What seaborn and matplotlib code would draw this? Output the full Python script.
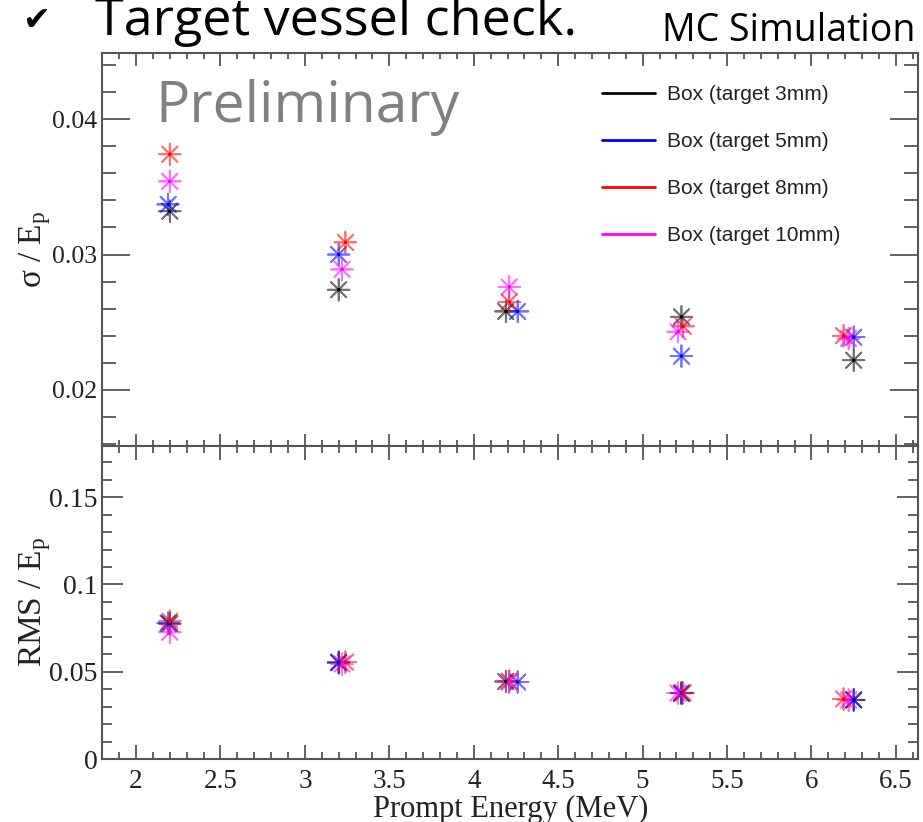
import matplotlib
matplotlib.use("Agg")
import matplotlib.pyplot as plt
import seaborn as sns
import pandas as pd
from matplotlib.lines import Line2D
from matplotlib.ticker import MultipleLocator, FuncFormatter

# series labels and colours (ROOT kBlack, kBlue, kRed, kMagenta)
targets = ["Box (target 3mm)", "Box (target 5mm)", "Box (target 8mm)", "Box (target 10mm)"]
colors = ["#000000", "#0000ff", "#ff0000", "#ff00ff"]

# prompt energy of each point (MeV), per target
energy_3mm = [2.20, 3.20, 4.19, 5.23, 6.25]
energy_5mm = [2.19, 3.20, 4.26, 5.23, 6.25]
energy_8mm = [2.20, 3.24, 4.21, 5.24, 6.19]
energy_10mm = [2.20, 3.22, 4.21, 5.21, 6.22]

# sigma / Ep
sigma_3mm = [0.0332, 0.0274, 0.0258, 0.0254, 0.0222]
sigma_5mm = [0.0337, 0.0300, 0.0258, 0.0225, 0.0239]
sigma_8mm = [0.0374, 0.0309, 0.0265, 0.0247, 0.0240]
sigma_10mm = [0.0354, 0.0289, 0.0276, 0.0243, 0.0238]

# RMS / Ep
rms_3mm = [0.0776, 0.0552, 0.0445, 0.0379, 0.0340]
rms_5mm = [0.0779, 0.0556, 0.0442, 0.0378, 0.0339]
rms_8mm = [0.0790, 0.0556, 0.0447, 0.0380, 0.0345]
rms_10mm = [0.0727, 0.0545, 0.0442, 0.0379, 0.0339]

energies = [energy_3mm, energy_5mm, energy_8mm, energy_10mm]
sigmas = [sigma_3mm, sigma_5mm, sigma_8mm, sigma_10mm]
rmss = [rms_3mm, rms_5mm, rms_8mm, rms_10mm]

rows = []
for name, e_list, s_list, r_list in zip(targets, energies, sigmas, rmss):
    for e, s, r in zip(e_list, s_list, r_list):
        rows.append({"target": name, "energy": e, "sigma": s, "rms": r})
df = pd.DataFrame(rows)
palette = dict(zip(targets, colors))

sns.set_style("ticks")
plt.rcParams['font.family'] = ['Liberation Serif', 'DejaVu Serif']
plt.rcParams['mathtext.fontset'] = 'custom'
plt.rcParams['mathtext.rm'] = 'Liberation Serif'
plt.rcParams['mathtext.it'] = 'Liberation Serif:italic'

axis_grey = "#555555"
text_col = "#222222"

fig = plt.figure(figsize=(9.23, 8.22), dpi=100)
ax_top = fig.add_axes([0.1108, 0.4580, 0.8840, 0.4779])
ax_bot = fig.add_axes([0.1108, 0.0763, 0.8840, 0.3817])

asterisk = (8, 2, 0)
for ax, col in [(ax_top, "sigma"), (ax_bot, "rms")]:
    sns.scatterplot(data=df, x="energy", y=col, hue="target", palette=palette,
                    marker=asterisk, s=240, linewidth=1.3, alpha=0.55,
                    legend=False, ax=ax)
    sns.scatterplot(data=df, x="energy", y=col, hue="target", palette=palette,
                    marker="o", s=7, linewidth=0, legend=False, ax=ax)
    ax.set_xlim(1.80, 6.632)
    ax.xaxis.set_major_locator(MultipleLocator(0.5))
    ax.xaxis.set_minor_locator(MultipleLocator(0.1))
    fmt = FuncFormatter(lambda v, p: f"{v:g}")
    ax.xaxis.set_major_formatter(fmt)
    ax.yaxis.set_major_formatter(fmt)
    for sp in ax.spines.values():
        sp.set_color(axis_grey)
        sp.set_linewidth(1.5)
        sp.set_visible(True)
    ax.tick_params(which="both", direction="in", top=True, right=True,
                   color=axis_grey, width=1.3, labelcolor=text_col)
    ax.set_xlabel("")
    ax.set_ylabel("")

# upper panel
ax_top.set_ylim(0.0159, 0.0449)
ax_top.yaxis.set_major_locator(MultipleLocator(0.01))
ax_top.yaxis.set_minor_locator(MultipleLocator(0.002))
ax_top.tick_params(axis="y", which="major", length=20, labelsize=18.5, pad=3.5)
ax_top.tick_params(axis="y", which="minor", length=10)
ax_top.tick_params(axis="x", which="major", length=9, labelbottom=False)
ax_top.tick_params(axis="x", which="minor", length=4.5)
ax_top.set_ylabel("σ / E$_{\\mathrm{p}}$", fontsize=24, color=text_col)
ax_top.yaxis.set_label_coords(-0.060, 0.5)

# lower panel
ax_bot.set_ylim(0, 0.1795)
ax_bot.yaxis.set_major_locator(MultipleLocator(0.05))
ax_bot.yaxis.set_minor_locator(MultipleLocator(0.01))
ax_bot.tick_params(axis="y", which="major", length=15, labelsize=20, pad=3.5)
ax_bot.tick_params(axis="y", which="minor", length=7)
ax_bot.tick_params(axis="x", which="major", length=10, labelsize=19.5, pad=7)
ax_bot.tick_params(axis="x", which="minor", length=5)
ax_bot.set_ylabel("RMS / E$_{\\mathrm{p}}$", fontsize=24, color=text_col)
ax_bot.yaxis.set_label_coords(-0.060, 0.5)
ax_bot.set_xlabel("Prompt Energy (MeV)", fontsize=22, color=text_col)
ax_bot.xaxis.set_label_coords(0.5, -0.112)

# legend with line handles, no frame
handles = [Line2D([0], [0], color=c, lw=2) for c in colors]
leg = ax_top.legend(handles, targets, loc="upper left", bbox_to_anchor=(0.612, 0.917),
                    frameon=False, borderpad=0, borderaxespad=0,
                    prop={"family": "Liberation Sans", "size": 15},
                    handlelength=2.55, handletextpad=0.6, labelspacing=1.34)
for t in leg.get_texts():
    t.set_color(text_col)

# slide annotations
fig.text(155 / 923, 1 - 122 / 822, "Preliminary", family="Open Sans", fontsize=41,
         color="#808080", ha="left", va="baseline")
fig.text(95 / 923, 1 - 35 / 822, "Target vessel check.", family="Open Sans", fontsize=37.5,
         color="black", ha="left", va="baseline")
fig.text(22 / 923, 1 - 30 / 822, "\u2714", family="DejaVu Sans", fontsize=24,
         color="black", ha="left", va="baseline")
fig.text(662 / 923, 1 - 41 / 822, "MC Simulation", family="Open Sans", fontsize=27,
         color="black", ha="left", va="baseline")

fig.savefig("out.png", dpi=100)
